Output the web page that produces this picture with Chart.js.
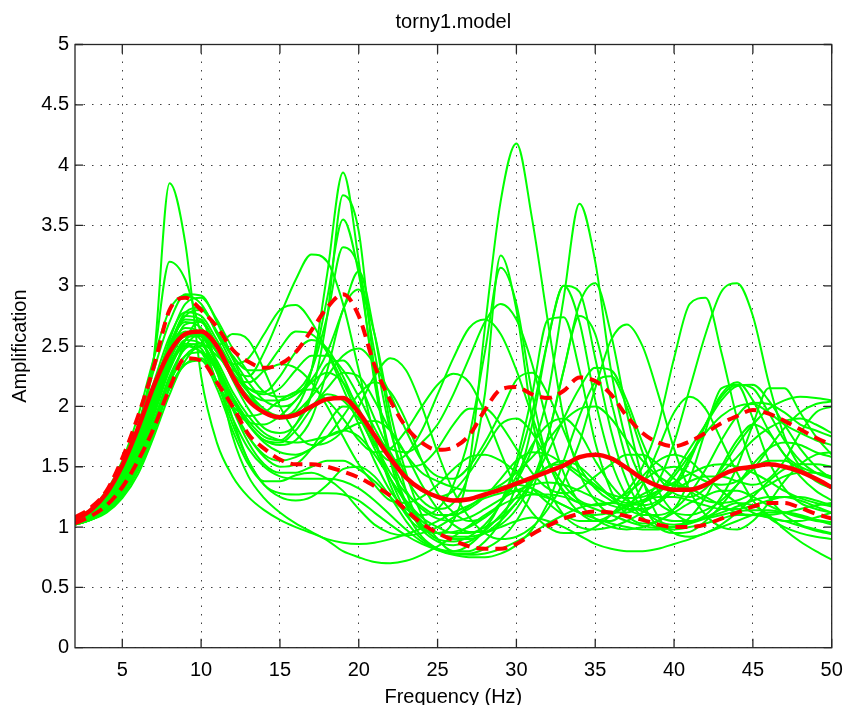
<!DOCTYPE html>
<html>
<head>
<meta charset="utf-8">
<script src="https://cdn.jsdelivr.net/npm/chart.js@4.4.1/dist/chart.umd.min.js"></script>
<style>
  html, body { margin: 0; padding: 0; background: #fff; }
  #wrap { width: 845px; height: 705px; }
</style>
</head>
<body>
<div id="wrap"><canvas id="ampChart" width="845" height="705"></canvas></div>
<script>
// frequency samples (Hz)
var freqs = [2,3,4,5,6,7,8,9,10,11,12,13,14,15,16,17,18,19,20,21,22,23,24,25,26,
             27,28,29,30,31,32,33,34,35,36,37,38,39,40,41,42,43,44,45,46,47,48,49,50];

var xTicks = [5,10,15,20,25,30,35,40,45,50];
var yTicks = [0,0.5,1,1.5,2,2.5,3,3.5,4,4.5,5];

// red curves: mean and mean +/- one std
var ampMean  = [1.06,1.14,1.28,1.51,1.82, 2.17,2.45,2.6,2.62,2.5, 2.25,2.05,1.95,1.91,1.93, 2.0,2.06,2.07,1.95,1.76,
                1.57,1.41,1.31,1.25,1.22, 1.23,1.27,1.31,1.36,1.41, 1.46,1.51,1.58,1.6,1.57, 1.49,1.4,1.34,1.31,1.31,
                1.35,1.43,1.48,1.5,1.52, 1.5,1.46,1.4,1.33];
var ampUpper = [1.08,1.16,1.3,1.57,1.92, 2.33,2.8,2.9,2.8,2.66, 2.47,2.37,2.32,2.35,2.45, 2.63,2.82,2.93,2.75,2.34,
                2.05,1.83,1.7,1.64,1.66, 1.76,1.97,2.14,2.16,2.1, 2.07,2.13,2.24,2.21,2.1, 1.92,1.78,1.7,1.67,1.71,
                1.78,1.86,1.92,1.97,1.94, 1.88,1.81,1.74,1.68];
var ampLower = [1.03,1.09,1.18,1.33,1.55, 1.82,2.15,2.4,2.38,2.2, 2.0,1.77,1.65,1.56,1.52, 1.52,1.5,1.46,1.41,1.34,
                1.26,1.14,1.03,0.95,0.89, 0.84,0.82,0.82,0.86,0.94, 1.01,1.07,1.11,1.13,1.12, 1.09,1.06,1.02,1.0,1.0,
                1.02,1.07,1.12,1.17,1.2, 1.2,1.16,1.11,1.07];

// green curves: one per model realisation
var run01 = [1.05,1.12,1.24,1.45,1.8, 2.4,3.85,3.35,2.25,1.7, 1.42,1.25,1.14,1.06,1.0, 0.95,0.9,0.87,0.86,0.87,
             0.9,0.94,0.99,1.05,1.12, 1.18,1.24,1.28,1.3,1.28, 1.24,1.18,1.12,1.07,1.03, 1.0,0.98,0.98,1.0,1.03,
             1.07,1.1,1.13,1.14,1.14, 1.12,1.09,1.06,1.04];
var run02 = [1.06,1.14,1.27,1.48,1.82, 2.4,3.2,3.05,2.6,2.2, 1.98,1.87,1.85,1.92,2.05, 2.2,2.28,2.2,1.98,1.7,
             1.45,1.28,1.17,1.1,1.1, 1.15,1.25,1.4,1.55,1.62, 1.6,1.52,1.42,1.33,1.27, 1.24,1.25,1.3,1.37,1.44,
             1.5,1.52,1.5,1.45,1.38, 1.3,1.24,1.2,1.17];
var run03 = [1.02,1.06,1.13,1.26,1.47, 1.78,2.17,2.55,2.72,2.3, 1.75,1.42,1.24,1.12,1.03, 0.96,0.89,0.8,0.75,0.71,
             0.7,0.72,0.77,0.84,0.92, 1.01,1.1,1.18,1.24,1.27, 1.27,1.25,1.2,1.15,1.1, 1.05,1.01,0.99,0.98,1.0,
             1.03,1.07,1.1,1.1,1.08, 1.05,1.01,0.97,0.94];
var run04 = [1.03,1.08,1.16,1.3,1.52, 1.85,2.22,2.5,2.6,2.35, 1.9,1.55,1.35,1.28,1.27, 1.28,1.28,1.27,1.22,1.12,
             1.02,0.93,0.86,0.81,0.78, 0.77,0.78,0.82,0.88,0.95, 1.03,1.1,1.16,1.19,1.2, 1.18,1.13,1.08,1.05,1.05,
             1.08,1.12,1.17,1.22,1.25, 1.25,1.22,1.17,1.12];
var run05 = [1.05,1.12,1.24,1.43,1.72, 2.1,2.5,2.78,2.82,2.6, 2.35,2.12,1.98,1.92,1.98, 2.3,3.1,3.94,3.2,2.2,
             1.6,1.3,1.15,1.07,1.05, 1.08,1.15,1.23,1.3,1.35, 1.37,1.35,1.3,1.24,1.18, 1.15,1.15,1.2,1.32,1.55,
             1.85,2.1,2.2,2.05,1.8, 1.6,1.5,1.45,1.42];
var run06 = [1.04,1.1,1.2,1.37,1.63, 2.0,2.4,2.68,2.7,2.5, 2.22,1.98,1.82,1.78,1.85, 2.1,2.75,3.75,3.45,2.3,
             1.55,1.18,1.0,0.95,0.96, 1.0,1.08,1.2,1.38,1.65, 2.1,2.9,3.68,3.2,2.3, 1.7,1.38,1.2,1.12,1.1,
             1.14,1.22,1.35,1.48,1.55, 1.55,1.48,1.4,1.32];
var run07 = [1.05,1.11,1.22,1.4,1.68, 2.05,2.48,2.75,2.8,2.62, 2.4,2.2,2.05,2.0,2.05, 2.3,2.9,3.55,3.1,2.25,
             1.6,1.2,0.98,0.88,0.85, 0.88,0.97,1.1,1.25,1.4, 1.5,1.52,1.45,1.35,1.25, 1.2,1.22,1.3,1.45,1.65,
             1.85,2.05,2.17,2.18,2.05, 1.85,1.65,1.5,1.4];
var run08 = [1.04,1.11,1.22,1.42,1.72, 2.12,2.55,2.85,2.9,2.72, 2.48,2.28,2.12,2.08,2.12, 2.3,2.75,3.32,3.15,2.45,
             1.8,1.42,1.22,1.15,1.2, 1.45,2.1,3.25,2.8,1.9, 1.35,1.1,1.0,0.98,1.0, 1.05,1.12,1.2,1.3,1.38,
             1.42,1.42,1.38,1.35,1.4, 1.55,1.78,1.95,2.0];
var run09 = [1.03,1.09,1.18,1.34,1.58, 1.92,2.3,2.55,2.6,2.45, 2.28,2.12,2.05,2.05,2.1, 2.22,2.45,2.8,3.12,2.6,
             1.85,1.3,1.02,0.9,0.88, 0.92,1.02,1.2,1.5,1.95, 2.55,3.0,2.95,2.4,1.8, 1.38,1.15,1.05,1.02,1.04,
             1.1,1.25,1.5,1.85,2.15, 2.15,1.95,1.75,1.6];
var run10 = [1.03,1.08,1.17,1.32,1.55, 1.88,2.25,2.48,2.52,2.42, 2.3,2.25,2.45,2.75,3.05, 3.26,3.2,2.85,2.3,1.75,
             1.35,1.1,0.98,0.95,1.05, 1.5,2.65,3.7,4.18,3.55, 2.7,1.9,1.45,1.22,1.12, 1.12,1.2,1.38,1.7,2.15,
             2.6,2.95,3.02,2.75,2.2, 1.75,1.5,1.38,1.32];
var run11 = [1.05,1.12,1.24,1.44,1.75, 2.15,2.5,2.72,2.7,2.52, 2.35,2.4,2.6,2.8,2.84, 2.7,2.45,2.15,1.85,1.55,
             1.3,1.15,1.1,1.15,1.35, 1.75,2.45,3.15,2.85,2.1, 1.55,1.3,1.2,1.18,1.2, 1.3,1.5,1.85,2.4,2.85,
             2.9,2.45,1.9,1.5,1.25, 1.1,1.02,0.98,0.95];
var run12 = [1.04,1.1,1.2,1.38,1.65, 2.0,2.38,2.6,2.62,2.45, 2.25,2.2,2.3,2.48,2.62, 2.6,2.45,2.2,1.92,1.68,
             1.55,1.6,1.8,2.1,2.4, 2.65,2.72,2.6,2.3,1.92, 1.55,1.28,1.12,1.05,1.05, 1.15,1.35,1.65,1.95,2.08,
             1.98,1.72,1.45,1.22,1.08, 1.0,0.95,0.92,0.9];
var run13 = [1.03,1.08,1.17,1.32,1.55, 1.88,2.2,2.42,2.5,2.5, 2.6,2.55,2.3,2.0,1.78, 1.68,1.7,1.8,2.0,2.25,
             2.4,2.3,2.0,1.62,1.3, 1.08,0.95,0.9,0.92,1.0, 1.15,1.38,1.7,2.15,2.55, 2.68,2.5,2.1,1.65,1.3,
             1.1,1.0,0.98,1.05,1.2, 1.38,1.52,1.6,1.62];
var run14 = [1.05,1.11,1.22,1.4,1.7, 2.08,2.45,2.62,2.55,2.3, 2.05,1.85,1.72,1.68,1.72, 1.9,2.3,2.8,2.97,2.6,
             1.95,1.45,1.1,0.9,0.8, 0.8,0.88,1.05,1.35,1.85, 2.55,3.0,2.7,2.05,1.55, 1.25,1.08,1.0,1.0,1.08,
             1.25,1.5,1.72,1.85,1.78, 1.6,1.42,1.3,1.22];
var run15 = [1.02,1.07,1.15,1.3,1.52, 1.85,2.2,2.42,2.45,2.3, 2.05,1.85,1.72,1.7,1.8, 1.98,2.1,2.05,1.9,1.75,
             1.65,1.62,1.7,1.85,2.1, 2.4,2.7,2.85,2.72,2.35, 1.85,1.45,1.2,1.07,1.0, 0.98,1.0,1.05,1.12,1.2,
             1.26,1.3,1.3,1.25,1.18, 1.12,1.08,1.05,1.04];
var run16 = [1.05,1.12,1.23,1.42,1.72, 2.1,2.48,2.65,2.6,2.35, 2.0,1.75,1.58,1.5,1.52, 1.65,1.85,2.0,1.95,1.7,
             1.4,1.12,0.92,0.82,0.78, 0.78,0.82,0.9,1.05,1.3, 1.75,2.3,2.75,2.6,2.05, 1.55,1.2,1.0,0.95,0.96,
             1.05,1.18,1.35,1.52,1.65, 1.7,1.68,1.62,1.58];
var run17 = [1.03,1.09,1.19,1.36,1.62, 1.98,2.35,2.52,2.48,2.2, 1.85,1.55,1.35,1.25,1.22, 1.25,1.35,1.48,1.5,1.42,
             1.25,1.05,0.9,0.82,0.8, 0.85,0.98,1.2,1.55,2.1, 2.72,2.74,2.3,1.7,1.3, 1.1,1.03,1.05,1.15,1.4,
             1.8,2.15,2.18,1.9,1.55, 1.32,1.2,1.15,1.12];
var run18 = [1.04,1.1,1.21,1.4,1.68, 2.05,2.45,2.75,2.72,2.5, 2.28,2.15,2.12,2.25,2.45, 2.55,2.48,2.25,1.95,1.65,
             1.4,1.22,1.08,1.0,0.95, 0.95,1.0,1.08,1.2,1.38, 1.62,1.9,2.15,2.32,2.3, 2.05,1.7,1.42,1.28,1.25,
             1.32,1.48,1.68,1.85,1.98, 2.05,2.08,2.07,2.05];
var run19 = [1.06,1.14,1.27,1.5,1.85, 2.3,2.7,2.93,2.92,2.7, 2.4,2.12,1.95,1.9,1.95, 2.08,2.25,2.42,2.48,2.35,
             2.1,1.8,1.55,1.42,1.4, 1.5,1.7,1.95,2.22,2.28, 2.1,1.8,1.5,1.32,1.22, 1.18,1.2,1.28,1.42,1.6,
             1.78,1.92,2.0,2.02,1.95, 1.85,1.78,1.72,1.68];
var run20 = [1.03,1.09,1.18,1.35,1.6, 1.95,2.32,2.5,2.45,2.2, 2.0,1.92,1.95,2.05,2.12, 2.14,2.05,1.9,1.72,1.62,
             1.65,1.8,2.0,2.18,2.27, 2.2,1.95,1.62,1.32,1.12, 1.0,0.95,0.95,1.0,1.1, 1.25,1.42,1.55,1.6,1.55,
             1.42,1.3,1.2,1.12,1.08, 1.05,1.05,1.08,1.12];
var run21 = [1.04,1.1,1.2,1.38,1.65, 2.02,2.42,2.6,2.58,2.35, 2.08,1.85,1.7,1.62,1.6, 1.65,1.75,1.92,2.1,2.2,
             2.12,1.88,1.55,1.28,1.12, 1.05,1.08,1.2,1.42,1.68, 1.85,1.9,1.78,1.55,1.35, 1.22,1.18,1.22,1.35,1.58,
             1.85,2.08,2.18,2.15,1.95, 1.72,1.55,1.45,1.4];
var run22 = [1.02,1.06,1.14,1.28,1.5, 1.82,2.15,2.35,2.4,2.2, 1.9,1.65,1.5,1.42,1.4, 1.4,1.4,1.38,1.32,1.22,
             1.1,0.98,0.88,0.81,0.77, 0.75,0.75,0.78,0.85,0.98, 1.2,1.55,1.92,2.2,2.25, 2.0,1.62,1.3,1.12,1.05,
             1.08,1.15,1.2,1.18,1.1, 0.98,0.88,0.8,0.73];
var run23 = [1.05,1.11,1.22,1.4,1.68, 2.02,2.35,2.5,2.45,2.3, 2.08,1.88,1.75,1.72,1.85, 2.1,2.35,2.38,2.2,1.9,
             1.62,1.42,1.3,1.25,1.3, 1.45,1.65,1.85,1.9,1.78, 1.55,1.35,1.22,1.18,1.2, 1.28,1.38,1.47,1.5,1.45,
             1.38,1.35,1.38,1.48,1.65, 1.82,1.95,2.02,2.04];
var run24 = [1.03,1.08,1.17,1.33,1.58, 1.95,2.32,2.55,2.52,2.28, 1.98,1.75,1.6,1.55,1.58, 1.65,1.75,1.8,1.75,1.6,
             1.4,1.2,1.05,0.95,0.9, 0.9,0.95,1.05,1.2,1.38, 1.5,1.55,1.5,1.38,1.25, 1.15,1.1,1.1,1.15,1.28,
             1.48,1.72,1.92,2.03,2.02, 1.95,1.85,1.8,1.75];
var run25 = [1.02,1.06,1.13,1.26,1.48, 1.8,2.15,2.35,2.38,2.15, 1.8,1.52,1.38,1.38,1.43, 1.45,1.4,1.3,1.15,1.02,
             0.95,0.93,0.95,1.0,1.08, 1.17,1.26,1.33,1.35,1.32, 1.25,1.18,1.12,1.1,1.12, 1.17,1.22,1.25,1.25,1.22,
             1.18,1.15,1.15,1.18,1.22, 1.25,1.25,1.22,1.18];
var run26 = [1.05,1.12,1.24,1.45,1.76, 2.15,2.52,2.7,2.65,2.45, 2.25,2.08,1.95,1.9,1.92, 2.0,2.15,2.28,2.25,2.05,
             1.8,1.6,1.45,1.38,1.33, 1.3,1.3,1.35,1.45,1.58, 1.72,1.88,1.98,2.0,1.9, 1.72,1.55,1.42,1.35,1.32,
             1.35,1.45,1.58,1.72,1.82, 1.88,1.9,1.85,1.78];
var run27 = [1.05,1.13,1.25,1.47,1.8, 2.2,2.58,2.78,2.75,2.55, 2.32,2.15,2.1,2.15,2.3, 2.42,2.42,2.3,2.08,1.82,
             1.6,1.5,1.52,1.65,1.85, 1.98,1.98,1.85,1.65,1.45, 1.32,1.28,1.32,1.42,1.52, 1.6,1.6,1.52,1.4,1.3,
             1.22,1.2,1.22,1.28,1.35, 1.42,1.45,1.45,1.42];
var run28 = [1.07,1.15,1.3,1.55,1.92, 2.4,2.8,2.92,2.85,2.62, 2.42,2.3,2.3,2.35,2.32, 2.2,2.0,1.75,1.52,1.35,
             1.22,1.2,1.25,1.35,1.48, 1.58,1.6,1.55,1.45,1.32, 1.2,1.1,1.05,1.05,1.1, 1.18,1.27,1.33,1.35,1.32,
             1.25,1.18,1.12,1.1,1.1, 1.12,1.15,1.18,1.2];
var run29 = [1.03,1.09,1.19,1.37,1.64, 2.0,2.38,2.58,2.58,2.38, 2.12,1.92,1.78,1.72,1.7, 1.72,1.75,1.8,1.86,1.88,
             1.8,1.6,1.35,1.15,1.02, 0.96,0.96,1.02,1.15,1.38, 1.75,2.3,2.85,3.02,2.6, 1.95,1.4,1.08,0.95,0.92,
             0.95,1.02,1.12,1.25,1.38, 1.48,1.52,1.52,1.5];
var run30 = [1.02,1.06,1.12,1.24,1.44, 1.75,2.1,2.38,2.5,2.32, 1.98,1.7,1.52,1.45,1.45, 1.5,1.55,1.55,1.48,1.38,
             1.25,1.12,1.02,0.95,0.92, 0.92,0.95,1.0,1.05,1.08, 1.05,1.0,0.93,0.86,0.82, 0.8,0.8,0.82,0.86,0.9,
             0.95,1.0,1.05,1.1,1.12, 1.12,1.1,1.06,1.02];

var greenRuns = [run01,run02,run03,run04,run05,run06,run07,run08,run09,run10,
                 run11,run12,run13,run14,run15,run16,run17,run18,run19,run20,
                 run21,run22,run23,run24,run25,run26,run27,run28,run29,run30];

function toPoints(vals) {
  return freqs.map(function (f, i) { return {x: f, y: vals[i]}; });
}

var FONT = "'Liberation Sans', Arial, Helvetica, sans-serif";

var datasets = [
  {data: toPoints(ampMean), borderColor: '#ff0000', borderWidth: 4.5, order: 0},
  {data: toPoints(ampUpper), borderColor: '#ff0000', borderWidth: 4, borderDash: [12, 7], order: 0},
  {data: toPoints(ampLower), borderColor: '#ff0000', borderWidth: 4, borderDash: [12, 7], order: 0}
];
greenRuns.forEach(function (run) {
  datasets.push({data: toPoints(run), borderColor: '#00ff00', borderWidth: 2, order: 1});
});

// matlab style box with inward ticks on all four sides
var framePlugin = {
  id: 'frame',
  afterDatasetsDraw: function (chart) {
    var ctx = chart.ctx, a = chart.chartArea;
    var xs = chart.scales.x, ys = chart.scales.y;
    ctx.save();
    ctx.strokeStyle = '#262626';
    ctx.lineWidth = 1.3;
    ctx.strokeRect(a.left, a.top, a.right - a.left, a.bottom - a.top);
    ctx.beginPath();
    xTicks.forEach(function (v) {
      var px = xs.getPixelForValue(v);
      ctx.moveTo(px, a.bottom); ctx.lineTo(px, a.bottom - 9);
      ctx.moveTo(px, a.top); ctx.lineTo(px, a.top + 9);
    });
    yTicks.forEach(function (v) {
      var py = ys.getPixelForValue(v);
      ctx.moveTo(a.left, py); ctx.lineTo(a.left + 8, py);
      ctx.moveTo(a.right, py); ctx.lineTo(a.right - 8, py);
    });
    ctx.stroke();
    ctx.restore();
  }
};

new Chart(document.getElementById('ampChart'), {
  type: 'line',
  data: {datasets: datasets},
  plugins: [framePlugin],
  options: {
    responsive: false,
    animation: false,
    devicePixelRatio: 1,
    layout: {padding: {left: 0, right: 13.3, top: 0, bottom: 0}},
    elements: {
      point: {radius: 0, hoverRadius: 0},
      line: {cubicInterpolationMode: 'monotone', fill: false}
    },
    plugins: {
      legend: {display: false},
      tooltip: {enabled: false}
    },
    scales: {
      // top axis only carries the title, so it centres over the plot box
      top: {
        type: 'linear',
        position: 'top',
        min: 2,
        max: 50,
        afterFit: function (s) { s.height = 44.5; s.paddingLeft = 0; s.paddingRight = 0; },
        grid: {display: false, drawTicks: false},
        border: {display: false},
        ticks: {display: false},
        title: {
          display: true,
          text: 'torny1.model',
          color: '#000',
          font: {family: FONT, size: 20},
          padding: {top: 10, bottom: 0}
        }
      },
      x: {
        type: 'linear',
        min: 2,
        max: 50,
        afterFit: function (s) { s.height = 57.3; s.paddingLeft = 0; s.paddingRight = 0; },
        grid: {color: 'rgba(0,0,0,0.75)', lineWidth: 1, drawTicks: false},
        border: {display: false, dash: [1.5, 7]},
        ticks: {
          stepSize: 5,
          includeBounds: false,
          padding: 11,
          color: '#000',
          font: {family: FONT, size: 20},
          callback: function (v) { return String(v); }
        },
        title: {
          display: true,
          text: 'Frequency (Hz)',
          color: '#000',
          font: {family: FONT, size: 20, lineHeight: 0.8},
          padding: {top: 0, bottom: 0}
        }
      },
      y: {
        min: 0,
        max: 5,
        afterFit: function (s) { s.width = 75; },
        grid: {color: 'rgba(0,0,0,0.75)', lineWidth: 1, drawTicks: false},
        border: {display: false, dash: [1.5, 7]},
        ticks: {
          stepSize: 0.5,
          padding: 6,
          color: '#000',
          font: {family: FONT, size: 20},
          callback: function (v) { return String(v); }
        },
        title: {
          display: true,
          text: 'Amplification',
          color: '#000',
          font: {family: FONT, size: 20},
          padding: {top: 8, bottom: 0}
        }
      }
    }
  }
});
</script>
</body>
</html>
